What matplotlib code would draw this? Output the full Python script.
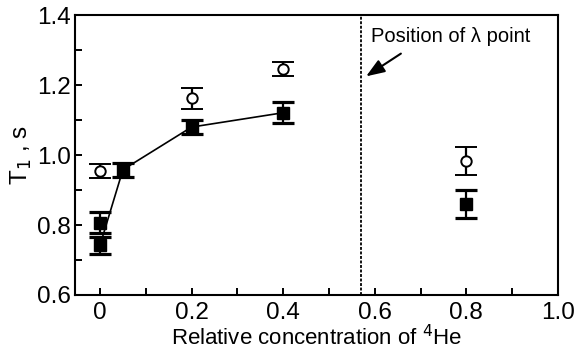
import matplotlib
matplotlib.use("Agg")
import matplotlib.pyplot as plt
from matplotlib.ticker import MultipleLocator, FixedFormatter, FixedLocator

plt.rcParams['font.family'] = ['Liberation Sans', 'DejaVu Sans']

# open circles
circ_x = [0.0, 0.2, 0.4, 0.8]
circ_y = [0.955, 1.162, 1.245, 0.982]
circ_err = [0.02, 0.03, 0.02, 0.04]

# filled squares (connected series)
sq_line_x = [0.0, 0.05, 0.2, 0.4]
sq_line_y = [0.742, 0.958, 1.080, 1.121]
sq_line_err = [0.025, 0.02, 0.02, 0.03]

# filled squares (isolated)
sq_extra_x = [0.0, 0.8]
sq_extra_y = [0.807, 0.860]
sq_extra_err = [0.03, 0.04]

lambda_x = 0.57

xticks = [0, 0.2, 0.4, 0.6, 0.8, 1.0]
xticklabels = ['0', '0.2', '0.4', '0.6', '0.8', '1.0']
yticks = [0.6, 0.8, 1.0, 1.2, 1.4]
yticklabels = ['0.6', '0.8', '1.0', '1.2', '1.4']

fig = plt.figure(figsize=(5.8, 3.52), dpi=100)
ax = fig.add_axes([0.129, 0.162, 0.833, 0.795])

ekw = dict(ecolor='black', elinewidth=1.6, capsize=8, capthick=2.3, zorder=3)

ax.plot(sq_line_x, sq_line_y, color='black', lw=1.2, zorder=2)
ax.errorbar(sq_line_x, sq_line_y, yerr=sq_line_err, fmt='s', ms=9,
            mfc='black', mec='black', **ekw)
ax.errorbar(sq_extra_x, sq_extra_y, yerr=sq_extra_err, fmt='s', ms=9,
            mfc='black', mec='black', **ekw)
ax.errorbar(circ_x, circ_y, yerr=circ_err, fmt='o', ms=7.5,
            mfc='white', mec='black', mew=1.4, **ekw)

ax.axvline(lambda_x, color='black', lw=1.3, ls=(0, (1.6, 0.9)), zorder=1)

ax.annotate('', xy=(0.581, 1.225), xytext=(0.657, 1.29),
            arrowprops=dict(arrowstyle='-|>,head_length=0.8,head_width=0.3',
                            color='black', lw=1.5, mutation_scale=14,
                            shrinkA=0, shrinkB=0))
ax.text(0.592, 1.338, 'Position of λ point', fontsize=14.5, va='center', ha='left')

ax.set_xlim(-0.055, 1.0)
ax.set_ylim(0.6, 1.4)
ax.xaxis.set_major_locator(FixedLocator(xticks))
ax.xaxis.set_major_formatter(FixedFormatter(xticklabels))
ax.yaxis.set_major_locator(FixedLocator(yticks))
ax.yaxis.set_major_formatter(FixedFormatter(yticklabels))
ax.xaxis.set_minor_locator(MultipleLocator(0.1))
ax.yaxis.set_minor_locator(MultipleLocator(0.1))
ax.tick_params(which='both', direction='in', length=5, width=1.4, labelsize=17.5)
ax.tick_params(axis='x', pad=5)
ax.tick_params(axis='y', pad=3)
for s in ax.spines.values():
    s.set_linewidth(1.5)

ax.set_xlabel('Relative concentration of $^4$He', fontsize=16, labelpad=1)
ax.set_ylabel('T$_1$ , s', fontsize=17.5, labelpad=2)

fig.savefig('out.png', dpi=100)
